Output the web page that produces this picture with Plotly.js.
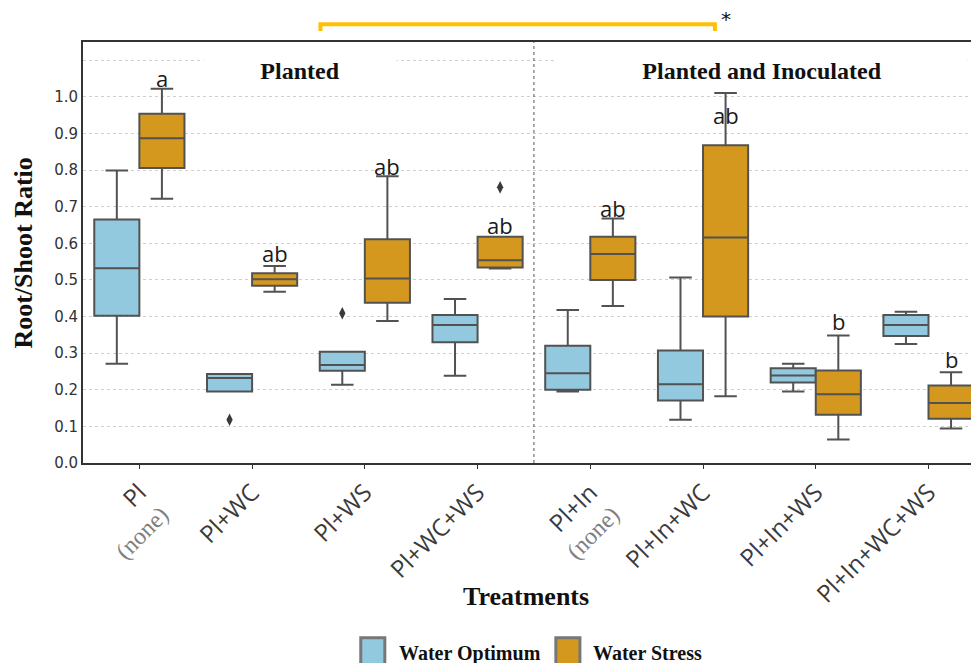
<!DOCTYPE html>
<html>
<head>
<meta charset="utf-8">
<script src="https://cdn.plot.ly/plotly-3.0.1.min.js"></script>
<style>html,body{margin:0;padding:0;background:#fff;overflow:hidden}</style>
</head>
<body>
<div id="chart" style="width:971px;height:663px"></div>
<script>
// ---- data ----
const categories = ['Pl (none)', 'Pl+WC', 'Pl+WS', 'Pl+WC+WS', 'Pl+In (none)', 'Pl+In+WC', 'Pl+In+WS', 'Pl+In+WC+WS'];
const tickMain = ['Pl', 'Pl+WC', 'Pl+WS', 'Pl+WC+WS', 'Pl+In', 'Pl+In+WC', 'Pl+In+WS', 'Pl+In+WC+WS'];
const tickSub = ['(none)', '', '', '', '(none)', '', '', ''];
const seriesNames = ['Water Optimum', 'Water Stress'];

const optLower  = [0.271, 0.195, 0.214, 0.238, 0.195, 0.118, 0.195, 0.325];
const optQ1     = [0.402, 0.195, 0.252, 0.330, 0.200, 0.171, 0.220, 0.347];
const optMedian = [0.532, 0.232, 0.268, 0.377, 0.245, 0.215, 0.239, 0.377];
const optQ3     = [0.665, 0.243, 0.304, 0.404, 0.320, 0.307, 0.259, 0.404];
const optUpper  = [0.799, 0.243, 0.304, 0.448, 0.418, 0.507, 0.271, 0.413];
const optOutliers = [null, 0.118, 0.409, null, null, null, null, null];

const stressLower  = [0.722, 0.468, 0.388, 0.531, 0.429, 0.182, 0.064, 0.094];
const stressQ1     = [0.806, 0.484, 0.438, 0.534, 0.500, 0.400, 0.132, 0.121];
const stressMedian = [0.887, 0.502, 0.504, 0.554, 0.571, 0.616, 0.188, 0.164];
const stressQ3     = [0.954, 0.518, 0.611, 0.618, 0.618, 0.868, 0.253, 0.212];
const stressUpper  = [1.022, 0.538, 0.783, 0.618, 0.668, 1.011, 0.348, 0.248];
const stressOutliers = [null, null, null, 0.753, null, null, null, null];

const sigLetters = ['a', 'ab', 'ab', 'ab', 'ab', 'ab', 'b', 'b'];
const sigLetterY = [1.053, 0.573, 0.812, 0.651, 0.696, 0.951, 0.387, 0.284];

const yTickVals = [0, 0.1, 0.2, 0.3, 0.4, 0.5, 0.6, 0.7, 0.8, 0.9, 1.0, 1.1];
const yTickText = ['0.0', '0.1', '0.2', '0.3', '0.4', '0.5', '0.6', '0.7', '0.8', '0.9', '1.0', ''];

// ---- styling ----
const optColor = '#93C9DE';
const stressColor = '#D5981F';
const edge = '#525252';
const off = 0.2;
const idx = categories.map((_, i) => i);
const optX = idx.map(i => i - off);
const stressX = idx.map(i => i + off);

function boxTrace(name, xs, lo, q1, med, q3, hi, color) {
  return {
    type: 'box', name: name, x: xs, q1: q1, median: med, q3: q3,
    lowerfence: lo, upperfence: hi, width: 0.4, whiskerwidth: 0.5,
    fillcolor: color, line: {color: edge, width: 2},
    boxpoints: false, hoverinfo: 'skip', showlegend: false
  };
}
function outlierTrace(xs, vals) {
  const px = [], py = [];
  vals.forEach((v, i) => { if (v !== null) { px.push(xs[i]); py.push(v); } });
  return {type: 'scatter', mode: 'markers', x: px, y: py,
    marker: {symbol: 'diamond-tall', size: 9, color: '#3a3a3a'},
    hoverinfo: 'skip', showlegend: false};
}

const traces = [
  boxTrace(seriesNames[0], optX, optLower, optQ1, optMedian, optQ3, optUpper, optColor),
  boxTrace(seriesNames[1], stressX, stressLower, stressQ1, stressMedian, stressQ3, stressUpper, stressColor),
  outlierTrace(optX, optOutliers),
  outlierTrace(stressX, stressOutliers)
];

const tickText = tickMain.map((m, i) => tickSub[i]
  ? m + '<br><span style="font-family:Liberation Serif;color:#808080">' + tickSub[i] + '</span>'
  : m);

const annotations = sigLetters.map((t, i) => ({
  x: stressX[i], y: sigLetterY[i], xref: 'x', yref: 'y', text: t, showarrow: false,
  xanchor: 'center', yanchor: 'middle',
  font: {family: 'Open Sans', size: 22, color: '#1a1a1a'}
}));

const serifBold = {family: 'Liberation Serif', size: 24, color: '#111'};
function pAnn(x, y, text, font, extra) {
  return Object.assign({x: x, y: y, xref: 'paper', yref: 'paper', text: text, showarrow: false,
    xanchor: 'center', yanchor: 'middle', font: font}, extra || {});
}
annotations.push(
  pAnn(0.244, 0.931, '<b>Planted</b>', serifBold, {width: 190, height: 38, bgcolor: '#ffffff'}),
  pAnn(0.7643, 0.931, '<b>Planted and Inoculated</b>', serifBold, {width: 408, height: 38, bgcolor: '#ffffff'}),
  pAnn(0.4987, -0.316, '<b>Treatments</b>', {family: 'Liberation Serif', size: 26, color: '#111'}),
  pAnn(-0.0668, 0.499, '<b>Root/Shoot Ratio</b>', {family: 'Liberation Serif', size: 26, color: '#111'}, {textangle: -90}),
  pAnn(0.7245, 1.055, '*', {family: 'DejaVu Sans', size: 20, color: '#111'}),
  pAnn(0.3537, -0.452, '<b>' + seriesNames[0] + '</b>', {family: 'Liberation Serif', size: 20, color: '#111'}, {xanchor: 'left'}),
  pAnn(0.5718, -0.452, '<b>' + seriesNames[1] + '</b>', {family: 'Liberation Serif', size: 20, color: '#111'}, {xanchor: 'left'})
);

const shapes = [
  {type: 'line', xref: 'x', yref: 'paper', x0: 3.5, x1: 3.5, y0: 0, y1: 1,
   line: {color: '#555', width: 1, dash: 'dot'}},
  {type: 'path', xref: 'paper', yref: 'paper',
   path: 'M 0.2674 1.026 L 0.2674 1.042 L 0.7116 1.042 L 0.7116 1.026',
   line: {color: '#FFC000', width: 4}},
  {type: 'rect', xref: 'paper', yref: 'paper', x0: 0.3128, x1: 0.3399, y0: -0.415, y1: -0.49,
   fillcolor: optColor, line: {color: '#777', width: 3}},
  {type: 'rect', xref: 'paper', yref: 'paper', x0: 0.5325, x1: 0.5596, y0: -0.415, y1: -0.49,
   fillcolor: stressColor, line: {color: '#777', width: 3}}
];

const layout = {
  width: 971, height: 663,
  margin: {l: 83, r: 0, t: 42, b: 200},
  paper_bgcolor: '#ffffff', plot_bgcolor: '#ffffff',
  font: {family: 'DejaVu Sans', color: '#333'},
  showlegend: false, boxmode: 'overlay',
  xaxis: {
    range: [-0.5, 7.377], tickvals: idx, ticktext: tickText, tickangle: -45,
    ticks: 'outside', ticklen: 4, tickcolor: '#333', tickwidth: 1,
    showline: true, linecolor: '#333', linewidth: 2, mirror: true,
    showgrid: false, zeroline: false,
    tickfont: {family: 'Open Sans', size: 24, color: '#3a3a3a'}
  },
  yaxis: {
    range: [0, 1.15], tickvals: yTickVals, ticktext: yTickText,
    ticks: '', showline: true, linecolor: '#333', linewidth: 2,
    showgrid: true, gridcolor: '#cfcfcf', griddash: 'dot', gridwidth: 1,
    zeroline: false, tickfont: {family: 'DejaVu Sans', size: 15, color: '#333'}
  },
  annotations: annotations,
  shapes: shapes
};

Plotly.newPlot('chart', traces, layout, {staticPlot: true, displayModeBar: false});
</script>
</body>
</html>
